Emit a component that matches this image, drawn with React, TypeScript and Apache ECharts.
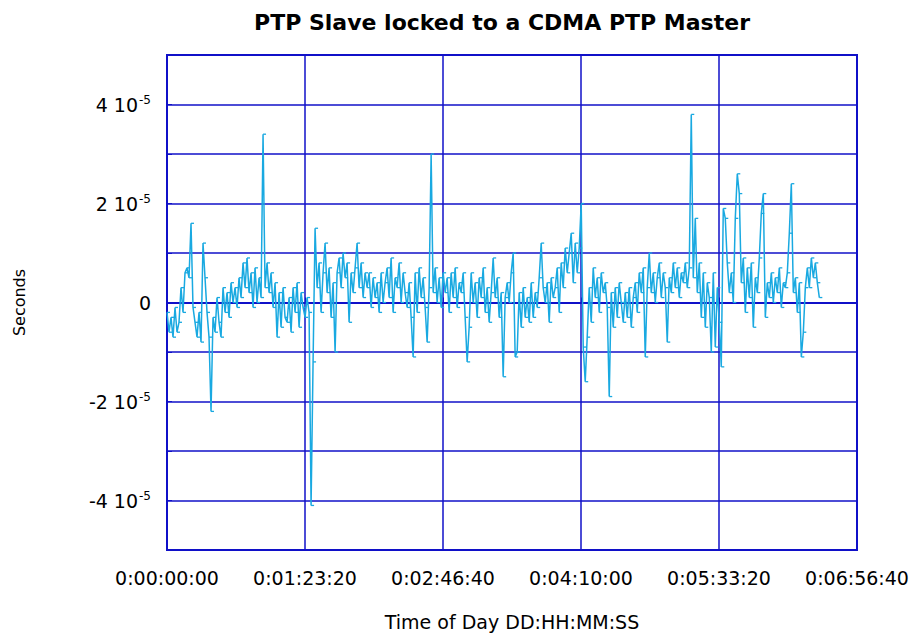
import React, { useEffect, useRef } from "react";
import * as echarts from "echarts";

// Chart texts
const TITLE = "PTP Slave locked to a CDMA PTP Master";
const X_NAME = "Time of Day DD:HH:MM:SS";
const Y_NAME = "Seconds";

// X axis (seconds since start)
const X_MIN = 0;
const X_MAX = 25000;
const X_STEP = 5000;

// Y axis in microseconds (labels shown as "n 10^-5" seconds)
const Y_MIN = -50;
const Y_MAX = 50;
const Y_STEP = 10;

// Sample spacing of the measurement (seconds)
const SAMPLE_INTERVAL_S = 72.5;

// Offset of the PTP slave, microseconds
const OFFSET_US: number[] = [
  -2, -6, -3, -7, -1, -6, -4, 3, -2, 6,
  7, 5, 16, -1, -4, -7, -2, -8, 12, 5,
  -2, -7, -22, -3, -6, 1, -4, -7, 3, -2,
  2, -3, 4, 0, 3, -1, 5, 1, 8, 3,
  9, 2, 6, -1, 7, 0, 5, 1, 34, 3,
  8, 2, 6, -1, 4, -7, 2, -5, 3, -3,
  -4, 1, -6, 3, -2, 4, -5, 2, -1, -3,
  1, -2, -41, -12, 15, 3, 8, -2, 6, 12,
  2, 7, -3, 4, -10, 6, 9, 3, 10, 5,
  8, -4, 6, 2, 7, 12, 3, 8, 1, 6,
  3, 6, -1, 5, 1, 4, -2, 6, 0, 4,
  7, 1, 9, -2, 5, 3, 8, 0, 6, 2,
  -1, 4, -3, -11, 6, -2, 7, 1, 5, -1,
  -8, 3, 30, 2, 7, 0, 5, -1, 6, 2,
  5, -2, 6, 1, 7, -1, 4, 2, 6, -3,
  -12, -5, 6, 0, 4, -3, 5, 1, 7, -2,
  3, -4, 2, 9, 1, 5, -3, 2, -15, 1,
  4, 0, 6, 10, -11, -10, 2, -5, 3, -3,
  1, -4, 4, -3, 2, -1, 5, 12, 3, 0,
  4, -4, 5, 1, 3, 7, -2, 8, 3, 11,
  6, 10, 14, 4, 12, 6, 11, 20, -9, -16,
  -7, 3, -4, 7, 1, 5, -2, 6, 2, 4,
  -1, -19, 2, -5, 3, -3, 4, 0, -4, 2,
  -3, 3, -5, 1, 4, -2, 6, 2, 7, -11,
  3, 10, 2, 6, 0, 5, 8, 1, 6, 3,
  -8, 5, 2, 8, 3, 7, 1, 6, 4, 8,
  3, 7, 38, 5, 17, 2, 8, -3, 6, -5,
  4, 1, -10, 6, -9, 3, -4, -13, 19, 17,
  8, 2, 6, 0, 17, 26, 22, 4, 9, -2,
  7, 1, 8, -5, 5, 2, 9, 18, 22, -3,
  4, 1, 6, 0, 5, 2, 7, -1, 4, 3,
  6, 14, 24, 2, 5, -2, 4, -11, -6, 3,
  7, 3, 9, 5, 8, 4, 1,
];

const pad2 = (n: number) => (n < 10 ? "0" + n : String(n));
const fmtTime = (s: number) => {
  const d = Math.floor(s / 86400);
  const h = Math.floor((s % 86400) / 3600);
  const m = Math.floor((s % 3600) / 60);
  const sec = Math.round(s % 60);
  return `${d}:${pad2(h)}:${pad2(m)}:${pad2(sec)}`;
};

const FONT = "'DejaVu Sans', 'Liberation Sans', Arial, sans-serif";
const GRID_BLUE = "#1010c8";
const LINE_BLUE = "#19a9e1";

export default function App() {
  const ref = useRef<HTMLDivElement>(null);
  useEffect(() => {
    document.body.style.margin = "0";
    document.body.style.overflow = "hidden";
    if (!ref.current) return;
    const chart = echarts.init(ref.current, undefined, { renderer: "svg" });
    const data = OFFSET_US.map((v, i) => [i * SAMPLE_INTERVAL_S, v]);
    chart.setOption({
      animation: false,
      backgroundColor: "#ffffff",
      title: {
        text: TITLE,
        left: 502,
        top: 11,
        padding: 0,
        textAlign: "center",
        textStyle: { fontFamily: FONT, fontSize: 22, fontWeight: "bold", color: "#000" },
      },
      grid: {
        left: 167,
        right: 57,
        top: 55,
        bottom: 87,
        containLabel: false,
        outerBoundsMode: "none",
        show: true,
        borderColor: GRID_BLUE,
        borderWidth: 2,
      },
      xAxis: {
        type: "value",
        min: X_MIN,
        max: X_MAX,
        interval: X_STEP,
        name: X_NAME,
        nameLocation: "middle",
        nameGap: 62,
        nameTextStyle: { fontFamily: FONT, fontSize: 19, color: "#000" },
        axisLine: { show: true, lineStyle: { color: GRID_BLUE, width: 2 } },
        axisTick: { show: true, inside: true, length: 5, lineStyle: { color: GRID_BLUE } },
        axisLabel: {
          margin: 18,
          fontFamily: FONT,
          fontSize: 19,
          color: "#000",
          formatter: (v: number) => fmtTime(v),
        },
        splitLine: { show: true, lineStyle: { color: GRID_BLUE, width: 1.5 } },
      },
      yAxis: {
        type: "value",
        min: Y_MIN,
        max: Y_MAX,
        interval: Y_STEP,
        name: Y_NAME,
        nameLocation: "middle",
        nameGap: 140,
        nameRotate: 90,
        nameTextStyle: { fontFamily: FONT, fontSize: 16, color: "#000" },
        axisLine: { show: true, lineStyle: { color: GRID_BLUE, width: 2 } },
        axisTick: { show: true, inside: true, length: 5, lineStyle: { color: GRID_BLUE } },
        axisLabel: {
          margin: 16,
          fontFamily: FONT,
          color: "#000",
          formatter: (v: number) => {
            if (v === 0) return "{m|0}";
            if (v % 20 !== 0) return "";
            return `{m|${v / 10} 10}{e|-5}`;
          },
          rich: {
            m: { fontFamily: FONT, fontSize: 19, color: "#000", lineHeight: 22 },
            e: { fontFamily: FONT, fontSize: 12, color: "#000", verticalAlign: "top", lineHeight: 22, padding: [0, 0, 0, 1] },
          },
        },
        splitLine: { show: true, lineStyle: { color: GRID_BLUE, width: 1.5 } },
      },
      series: [
        {
          type: "line",
          data,
          showSymbol: true,
          showAllSymbol: true,
          symbol: "rect",
          symbolSize: [3, 1.3],
          symbolOffset: [1.5, 0],
          itemStyle: { color: LINE_BLUE },
          lineStyle: { color: LINE_BLUE, width: 1.5 },
          z: 3,
        },
      ],
    });
    return () => chart.dispose();
  }, []);
  return <div ref={ref} style={{ width: 914, height: 637 }} />;
}
